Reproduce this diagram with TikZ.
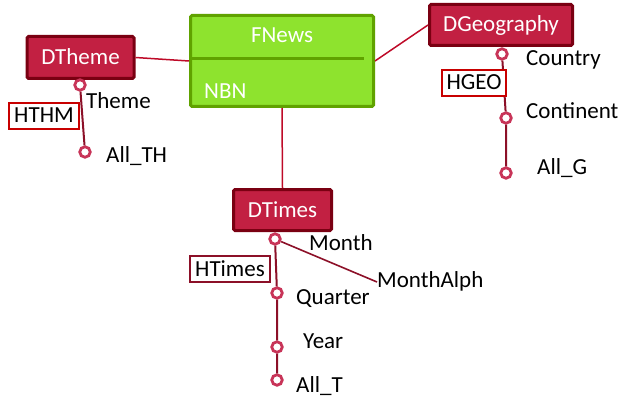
\documentclass[tikz,border=0pt]{standalone}
\usepackage{fontspec}
\setmainfont{Carlito}
\usetikzlibrary{positioning}
\definecolor{dimfill}{RGB}{194,32,66}
\definecolor{dimedge}{RGB}{122,0,18}
\definecolor{factfill}{RGB}{142,227,46}
\definecolor{factedge}{RGB}{96,162,0}
\definecolor{hierline}{RGB}{140,16,40}
\definecolor{lvledge}{RGB}{200,52,88}
\definecolor{hboxedge}{RGB}{200,0,0}
\definecolor{linkred}{RGB}{190,10,40}

\begin{document}
\begin{tikzpicture}[x=1pt, y=-1pt, font=\fontsize{23}{27}\selectfont,
    dim/.style={draw=dimedge, fill=dimfill, line width=3pt, rounded corners=1.5pt,
      text=white, inner sep=0pt, text height=15pt, text depth=1pt},
    fact/.style={draw=factedge, fill=factfill, line width=3pt, rounded corners=1.5pt,
      minimum width=183pt, minimum height=91pt, inner sep=0pt},
    hbox/.style={draw=hboxedge, fill=white, line width=1.8pt, inner sep=0pt,
      minimum height=26pt, text height=15pt, text depth=1pt},
    attr/.style={anchor=west, inner sep=0pt, text height=15pt, text depth=5pt},
    lvl/.style={circle, draw=lvledge, fill=white, line width=2.8pt,
      minimum size=10.5pt, inner sep=0pt},
    link/.style={draw=linkred, line width=1.5pt},
    hier/.style={draw=hierline, line width=2pt}]
  \useasboundingbox (0,0) rectangle (621,401);

  % fact table
  \node[fact] (fnews) at (282,61) {};
  \coordinate (sepend) at (364,59);
  \draw[factedge, line width=3pt] ([xshift=1.5pt]fnews.west |- sepend) -- (sepend);
  \node[attr, anchor=center, text=white] (fname) at (282,38) {FNews};
  \node[attr, text=white] (measure) at (204,94) {NBN};

  % dimensions
  \node[dim, minimum width=107pt, minimum height=42pt] (dtheme) at (80.5,57.5) {DTheme};
  \node[dim, minimum width=143pt, minimum height=41pt] (dgeo) at (501,25) {DGeography};
  \node[dim, minimum width=98pt, minimum height=41pt] (dtimes) at (282.5,210) {DTimes};

  \draw[link] (dtheme.east) -- (fnews.west);
  \draw[link] (fnews.east) -- (dgeo.west);
  \draw[link] (fnews.south) -- (dtimes.north);

  % theme hierarchy
  \node[lvl] (thm1) at (80,85) {};
  \node[lvl] (thm2) at (85,152) {};
  \draw[hier] (thm1) -- (thm2);
  \node[attr] (thm1lab) at (86,104) {Theme};
  \node[attr] (thm2lab) at (106,158) {All\_TH};
  \node[hbox, minimum width=70pt] (hthm) at (44,116) {HTHM};

  % geography hierarchy
  \node[lvl] (geo1) at (502,54) {};
  \node[lvl] (geo2) at (506,118) {};
  \node[lvl] (geo3) at (506,173) {};
  \draw[hier] (geo1) -- (geo2) -- (geo3);
  \node[attr] (geo1lab) at (526,61) {Country};
  \node[attr] (geo2lab) at (526,114) {Continent};
  \node[attr] (geo3lab) at (537,169) {All\_G};
  \node[hbox, minimum width=64pt] (hgeo) at (474,83) {HGEO};

  % time hierarchy
  \node[lvl] (tim1) at (275,239) {};
  \node[lvl] (tim2) at (277,293) {};
  \node[lvl] (tim3) at (277,347) {};
  \node[lvl] (tim4) at (277,380) {};
  \draw[hier] (tim1) -- (tim2) -- (tim3) -- (tim4);
  \node[attr] (tim1lab) at (309,245) {Month};
  \node[attr] (alph) at (377,282) {MonthAlph};
  \draw[hier, line width=1.6pt] (tim1) -- (alph.west);
  \node[attr] (tim2lab) at (296,299) {Quarter};
  \node[attr] (tim3lab) at (303,343) {Year};
  \node[attr] (tim4lab) at (296,387) {All\_T};
  \node[hbox, draw=hierline, minimum width=80pt] (htimes) at (230,269) {HTimes};
\end{tikzpicture}
\end{document}
